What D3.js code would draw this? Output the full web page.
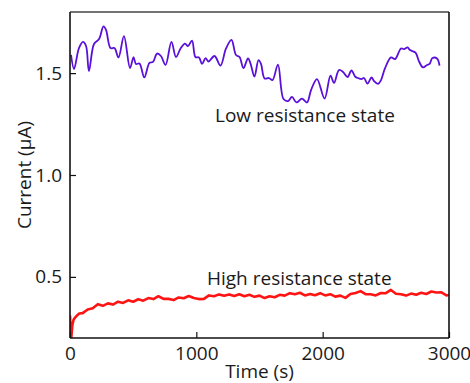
<!DOCTYPE html>
<html>
<head>
<meta charset="utf-8">
<script src="https://cdn.jsdelivr.net/npm/d3@7"></script>
<style>
  html, body { margin: 0; padding: 0; background: #fff; }
  svg { display: block; }
  text { font-family: "Open Sans", "Noto Sans", sans-serif; fill: #1a1a1a; }
</style>
</head>
<body>
<svg id="chart" width="470" height="383"></svg>
<script>
// ---- data ----
const lowTime = [8,32,71,103,127,150,190,230,265,285,321,352,384,427,475,503,522,550,588,629,657,689,720,756,
  803,839,875,910,934,966,993,1021,1045,1073,1096,1144,1191,1235,1278,1314,1342,1373,1409,1429,1460,1492,
  1512,1540,1575,1603,1646,1690,1726,1757,1793,1836,1876,1908,1955,2015,2062,2090,2129,2161,2197,2228,2260,
  2280,2307,2327,2355,2387,2406,2438,2462,2493,2541,2573,2620,2644,2672,2691,2735,2763,2794,2826,2846,2869,2905,2925];
const lowCurrent = [1.589,1.520,1.623,1.653,1.633,1.510,1.643,1.667,1.729,1.712,1.623,1.623,1.577,1.682,1.525,1.579,1.545,1.547,1.479,1.550,1.555,1.596,1.584,1.540,
  1.653,1.579,1.621,1.645,1.633,1.660,1.579,1.577,1.545,1.574,1.557,1.584,1.537,1.621,1.663,1.589,1.579,1.525,1.572,1.547,1.483,1.564,
  1.545,1.474,1.476,1.466,1.542,1.373,1.363,1.383,1.356,1.375,1.356,1.417,1.471,1.375,1.488,1.452,1.515,1.506,1.481,1.513,1.481,
  1.476,1.471,1.476,1.449,1.479,1.461,1.447,1.466,1.523,1.577,1.569,1.621,1.618,1.626,1.613,1.601,1.557,1.528,1.540,1.545,1.574,1.572,1.537];

const highTime = [0,5,10,18,28,40,55,74,100,140,180,220,260,300,340,380,420,460,500,540,580,620,660,700,740,780,820,860,900,940,980,
  1020,1060,1100,1140,1180,1220,1260,1300,1340,1380,1420,1460,1500,1540,1580,1620,1660,1700,1740,1780,1820,1860,1900,1940,1980,
  2020,2060,2100,2140,2180,2220,2260,2300,2340,2380,2420,2460,2500,2540,2580,2620,2660,2700,2740,2780,2820,2860,2900,2940,2980,3000];
const highCurrent = [0.31,0.25,0.20,0.26,0.29,0.30,0.31,0.32,0.322,0.340,0.346,0.366,0.358,0.370,0.364,0.378,0.372,0.385,0.378,0.390,0.383,0.396,0.391,0.405,0.392,0.392,0.386,0.399,0.395,0.406,0.396,
  0.391,0.392,0.409,0.405,0.414,0.407,0.414,0.406,0.415,0.405,0.412,0.402,0.408,0.396,0.405,0.400,0.412,0.408,0.420,0.415,0.422,0.409,0.416,0.410,0.420,
  0.409,0.415,0.403,0.408,0.397,0.416,0.421,0.430,0.415,0.415,0.409,0.421,0.420,0.436,0.417,0.415,0.408,0.418,0.412,0.422,0.416,0.428,0.423,0.424,0.409,0.411];

const xTicks = [0, 1000, 2000, 3000];
const yTicks = [0.5, 1.0, 1.5];
const xLabel = "Time (s)";
const yLabel = "Current (μA)";
const lowLabel = "Low resistance state";
const highLabel = "High resistance state";

// ---- layout ----
const svg = d3.select("#chart");
const L = 70, R = 449, T = 12, B = 338;
const x = d3.scaleLinear().domain([0, 3000]).range([L, R]);
const y = d3.scaleLinear().domain([0.2, 1.8]).range([B, T]);

svg.append("defs").append("clipPath").attr("id", "clip")
  .append("rect").attr("x", L).attr("y", T).attr("width", R - L).attr("height", B - T);

const line = d3.line().x(d => x(d[0])).y(d => y(d[1]));

svg.append("path")
  .datum(highTime.map((t, i) => [t, highCurrent[i]]))
  .attr("clip-path", "url(#clip)")
  .attr("fill", "none").attr("stroke", "#ff1414").attr("stroke-width", 2.6)
  .attr("stroke-linejoin", "round")
  .attr("d", line.curve(d3.curveLinear));

svg.append("path")
  .datum(lowTime.map((t, i) => [t, lowCurrent[i]]))
  .attr("clip-path", "url(#clip)")
  .attr("fill", "none").attr("stroke", "#5a10d8").attr("stroke-width", 1.8)
  .attr("stroke-linejoin", "round")
  .attr("d", d3.line().x(d => x(d[0])).y(d => y(d[1])).curve(d3.curveCatmullRom.alpha(0.5)));

// axes
const gx = svg.append("g").attr("transform", `translate(0,${B})`)
  .call(d3.axisBottom(x).tickValues(xTicks).tickSize(-6).tickPadding(9).tickFormat(d3.format("d")));
const gy = svg.append("g").attr("transform", `translate(${L},0)`)
  .call(d3.axisLeft(y).tickValues(yTicks).tickSize(-6).tickPadding(8).tickFormat(d3.format(".1f")));
[gx, gy].forEach(g => {
  g.select(".domain").remove();
  g.selectAll(".tick line").attr("stroke", "#111").attr("stroke-width", 1.2);
  g.selectAll(".tick text").attr("font-size", 19).attr("fill", "#1a1a1a")
    .style("font-family", '"Open Sans", sans-serif');
});

// frame
svg.append("line").attr("x1", L).attr("x2", R).attr("y1", T).attr("y2", T).attr("stroke", "#444").attr("stroke-width", 1.6);
svg.append("line").attr("x1", L).attr("x2", R).attr("y1", B).attr("y2", B).attr("stroke", "#111").attr("stroke-width", 1.6);
svg.append("line").attr("x1", L).attr("x2", L).attr("y1", T).attr("y2", B).attr("stroke", "#111").attr("stroke-width", 1.6);
svg.append("line").attr("x1", R).attr("x2", R).attr("y1", T).attr("y2", B).attr("stroke", "#111").attr("stroke-width", 1.6);

// labels
svg.append("text").attr("x", (L + R) / 2).attr("y", 378).attr("text-anchor", "middle")
  .attr("font-size", 19).text(xLabel);
svg.append("text").attr("transform", `translate(31,${(T + B) / 2}) rotate(-90)`).attr("text-anchor", "middle")
  .attr("font-size", 19).text(yLabel);
svg.append("text").attr("x", 215).attr("y", 122).attr("font-size", 19).text(lowLabel);
svg.append("text").attr("x", 207).attr("y", 285).attr("font-size", 19).text(highLabel);
</script>
</body>
</html>
